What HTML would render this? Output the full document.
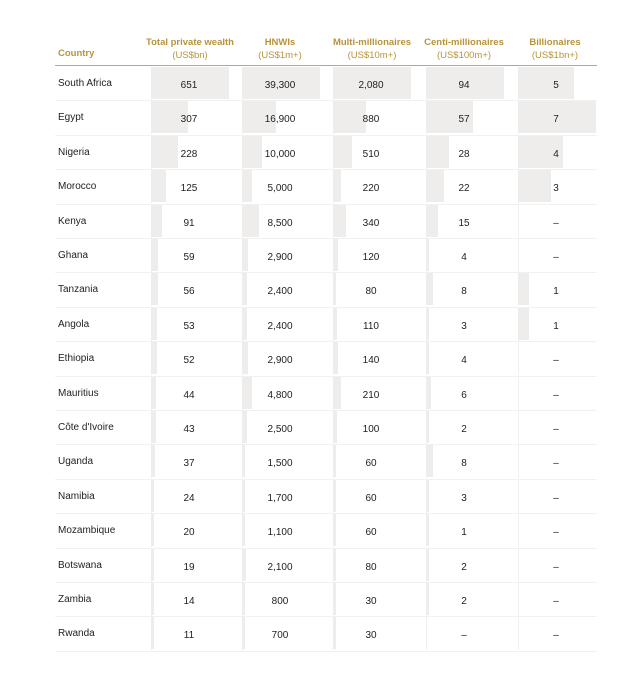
<!DOCTYPE html>
<html><head><meta charset="utf-8"><style>
body{margin:0;background:#fff;width:640px;height:675px;position:relative;font-family:"Liberation Sans",sans-serif;overflow:hidden}
.a{position:absolute}
.h{color:#b8933a;font-size:9.5px;font-weight:bold;text-align:center;line-height:13px}
.h span{font-weight:normal}
.bar{position:absolute;background:#efedeb}
.t{position:absolute;font-size:10px;color:#222;text-align:center;width:80px}
.c{position:absolute;font-size:10px;color:#222;left:58px}
</style></head><body>
<div class="a h" style="left:58px;top:47px;text-align:left">Country</div>
<div class="a h" style="left:140px;top:36px;width:100px">Total private wealth<br><span>(US$bn)</span></div>
<div class="a h" style="left:230px;top:36px;width:100px">HNWIs<br><span>(US$1m+)</span></div>
<div class="a h" style="left:322px;top:36px;width:100px">Multi-millionaires<br><span>(US$10m+)</span></div>
<div class="a h" style="left:414px;top:36px;width:100px">Centi-millionaires<br><span>(US$100m+)</span></div>
<div class="a h" style="left:505px;top:36px;width:100px">Billionaires<br><span>(US$1bn+)</span></div>
<div class="a" style="left:55px;top:65px;width:542px;height:1px;background:#c9a85a"></div>
<div id="g"></div>
<script>
var d=[["South Africa",651,39300,2080,94,5],["Egypt",307,16900,880,57,7],["Nigeria",228,10000,510,28,4],["Morocco",125,5000,220,22,3],["Kenya",91,8500,340,15,0],["Ghana",59,2900,120,4,0],["Tanzania",56,2400,80,8,1],["Angola",53,2400,110,3,1],["Ethiopia",52,2900,140,4,0],["Mauritius",44,4800,210,6,0],["Côte d'Ivoire",43,2500,100,2,0],["Uganda",37,1500,60,8,0],["Namibia",24,1700,60,3,0],["Mozambique",20,1100,60,1,0],["Botswana",19,2100,80,2,0],["Zambia",14,800,30,2,0],["Rwanda",11,700,30,0,0]];
var mx=[651,39300,2080,94,7],xs=[151,242,333,426,518],W=78,h="";
d.forEach(function(r,i){var y=67+i*34.4;
h+='<div class="a" style="left:55px;top:'+(y+33.4)+'px;width:542px;height:1px;background:#f1f1f1"></div>';
h+='<div class="c" style="top:'+(y+11)+'px">'+r[0]+'</div>';
for(var j=0;j<5;j++){var v=r[j+1],x=xs[j];
h+='<div class="a" style="left:'+x+'px;top:'+y+'px;width:1px;height:33px;background:#f0f0f0"></div>';
if(v>0)h+='<div class="bar" style="left:'+x+'px;top:'+y+'px;width:'+Math.max(3,W*v/mx[j])+'px;height:32px"></div>';
h+='<div class="t" style="left:'+(x-2)+'px;top:'+(y+13)+'px">'+(v>0?v.toLocaleString("en-US"):"–")+'</div>';}
});
document.getElementById("g").innerHTML=h;
</script>
</body></html>
